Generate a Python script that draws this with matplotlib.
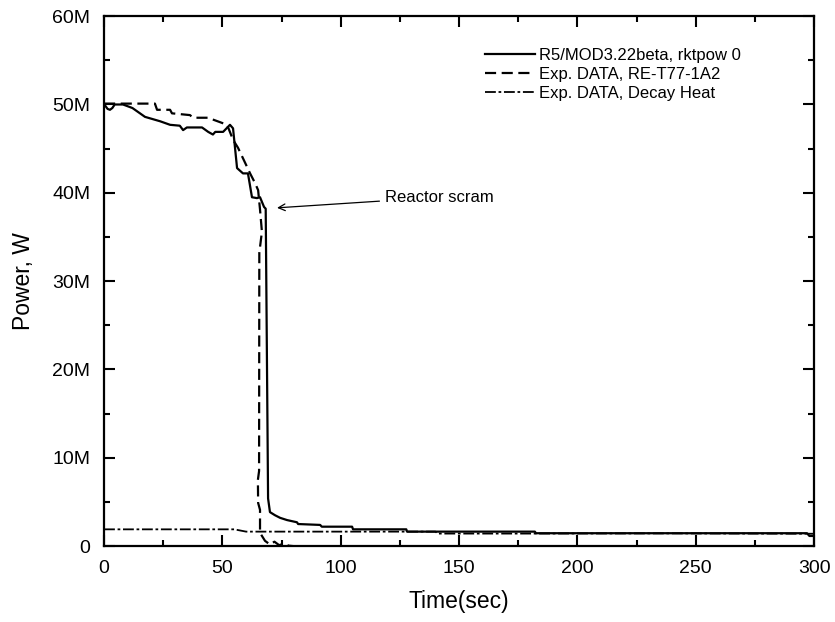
import matplotlib
matplotlib.use('Agg')
import matplotlib.pyplot as plt
from matplotlib.ticker import MultipleLocator, FuncFormatter

plt.rcParams['font.family'] = ['Liberation Sans', 'DejaVu Sans']

# ── Data ────────────────────────────────────────────────────────────────────
# R5/MOD3.22beta, rktpow 0  (time s, power MW)
r5_t = [0.4, 1.5, 2.5, 3.5, 4.5, 8, 12, 17.3, 23.7, 27.9, 32, 33.4, 35, 41.4, 44,
        46, 47, 50.3, 53.2, 54.5, 56.2, 58.7, 60.8, 62.5, 64.6, 65.9, 67.6, 68.3,
        69.3, 70.1, 72.2, 74.4, 77.3, 81.5, 82, 91.3, 92, 104.8, 105.2, 127.7,
        128, 182, 182.5, 297, 298, 300]
r5_p = [49.9, 49.5, 49.4, 49.6, 50.0, 50.0, 49.6, 48.6, 48.1, 47.7, 47.6, 47.1,
        47.4, 47.4, 46.9, 46.6, 46.9, 46.9, 47.7, 47.3, 42.8, 42.2, 42.2, 39.5,
        39.4, 39.5, 38.4, 38.2, 5.4, 3.85, 3.5, 3.2, 2.95, 2.7, 2.5, 2.4, 2.2, 2.2,
        1.9, 1.9, 1.64, 1.64, 1.46, 1.46, 1.15, 1.15]

# Exp. DATA, RE-T77-1A2
exp_t = [0, 21.5, 22.4, 27.9, 28.7, 36.3, 37.6, 43.9, 49, 52, 54.5, 56.6, 59.6,
         61.7, 63.8, 65.1, 65.9, 66.7, 65.6, 65.5, 65.0, 65.1, 65.9, 65.9, 68,
         70, 72, 74, 76, 78, 80]
exp_p = [50.1, 50.1, 49.4, 49.4, 49.0, 48.8, 48.5, 48.5, 48.0, 47.7, 46.0, 45.1,
         43.4, 42.2, 41.1, 40.3, 38.1, 35.6, 33.2, 8.5, 7.5, 4.9, 4.1, 1.5, 0.6,
         0.2, 0.5, 0.1, 0.3, 0.05, 0.0]

# Exp. DATA, Decay Heat
dh_t = [0, 55, 60, 100, 140, 141, 182, 240, 300]
dh_p = [1.9, 1.9, 1.64, 1.64, 1.64, 1.42, 1.42, 1.44, 1.40]

# ── Figure ──────────────────────────────────────────────────────────────────
fig = plt.figure(figsize=(8.35, 6.22), dpi=100)
ax = fig.add_axes([0.1246, 0.122, 0.8504, 0.852])

lw = 1.6
ax.plot(r5_t, [p * 1e6 for p in r5_p], color='black', lw=lw,
        label='R5/MOD3.22beta, rktpow 0')
ax.plot(exp_t, [p * 1e6 for p in exp_p], color='black', lw=lw,
        dashes=(5, 2.5), label='Exp. DATA, RE-T77-1A2')
ax.plot(dh_t, [p * 1e6 for p in dh_p], color='black', lw=1.3,
        dashes=(6, 1.5, 1.5, 1.5), label='Exp. DATA, Decay Heat')

ax.set_xlim(0, 300)
ax.set_ylim(0, 60e6)
ax.xaxis.set_major_locator(MultipleLocator(50))
ax.xaxis.set_minor_locator(MultipleLocator(25))
ax.yaxis.set_major_locator(MultipleLocator(10e6))
ax.yaxis.set_minor_locator(MultipleLocator(5e6))
ax.yaxis.set_major_formatter(FuncFormatter(
    lambda v, pos: '0' if v == 0 else f'{v / 1e6:.0f}M'))

ax.tick_params(which='both', direction='in', top=True, right=True,
               width=1.5, labelsize=14, pad=10)
ax.tick_params(which='major', length=8)
ax.tick_params(which='minor', length=4)
for s in ax.spines.values():
    s.set_linewidth(1.6)

ax.set_xlabel('Time(sec)', fontsize=16.5, labelpad=9)
ax.set_ylabel('Power, W', fontsize=16.5, labelpad=12)

ax.annotate('Reactor scram', xy=(73.1, 38.3e6), xytext=(118.7, 39.5e6),
            fontsize=12, va='center',
            arrowprops=dict(arrowstyle='->', color='black', lw=0.9,
                            shrinkA=2, shrinkB=0))

leg = ax.legend(loc='upper left', bbox_to_anchor=(0.537, 0.94), fontsize=12,
                frameon=False, handlelength=3.0, handletextpad=0.2,
                labelspacing=0.25, borderpad=0, borderaxespad=0)

fig.savefig('out.png', dpi=100)
